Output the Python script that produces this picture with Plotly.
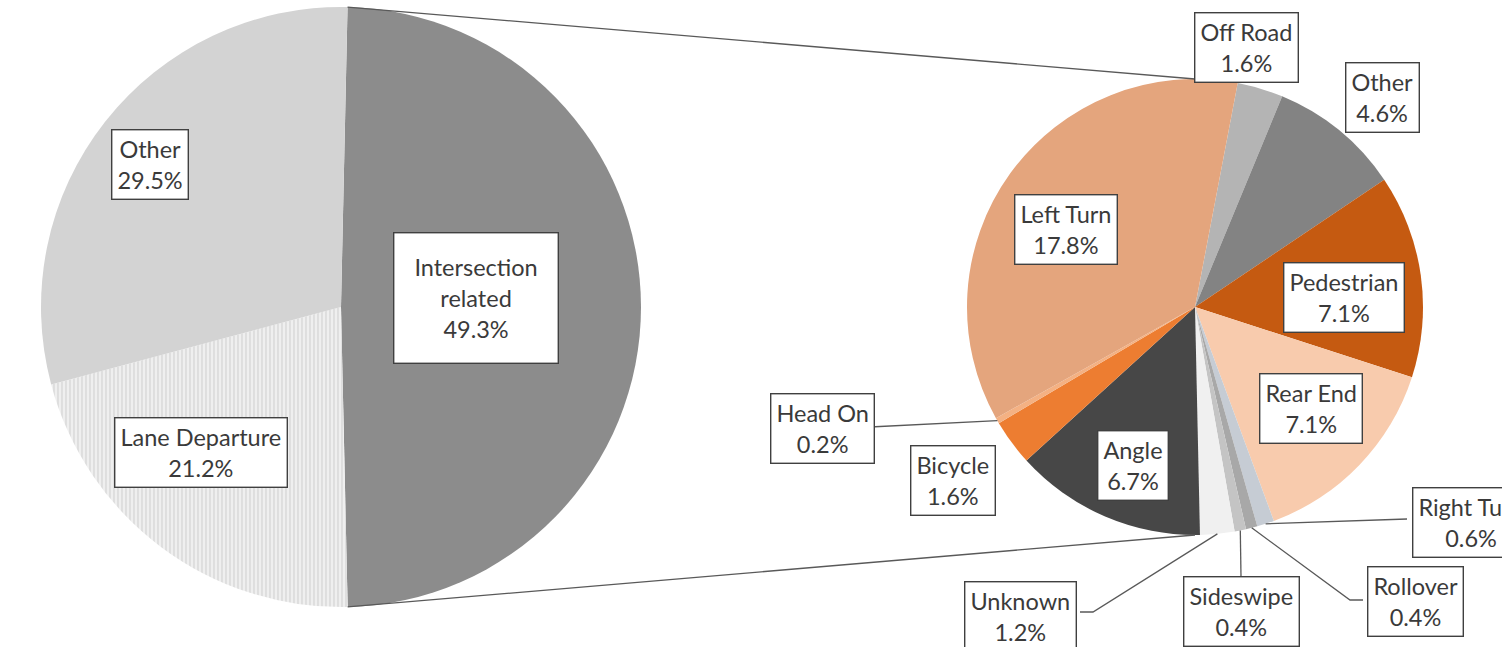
import math
import plotly.graph_objects as go

W, H = 1502, 647

# ---------------- data ----------------
main_labels = ["Intersection related", "Lane Departure", "Other"]
main_values = [49.3, 21.2, 29.5]
main_text = ["Intersection<br>related", "Lane Departure", "Other"]

sub_labels = ["Off Road", "Other", "Pedestrian", "Rear End", "Right Turn", "Rollover",
              "Sideswipe", "Unknown", "Angle", "Bicycle", "Head On", "Left Turn"]
sub_values = [1.6, 4.6, 7.1, 7.1, 0.6, 0.4, 0.4, 1.2, 6.7, 1.6, 0.2, 17.8]

# ---------------- styles / layout ----------------
main_colors = ["#8c8c8c", "#efefef", "#d3d3d3"]
sub_colors = ["#b4b4b4", "#838383", "#c55a11", "#f8cbad", "#c6ccd4", "#a8a8a8",
              "#c4c4c4", "#f0f0f0", "#474747", "#ed7d31", "#f4b183", "#e4a57d"]

L_CX, L_CY, L_R = 341, 307, 300      # left pie centre / radius (px)
R_CX, R_CY, R_R = 1195, 307, 228     # right pie centre / radius (px)
L_ROT = 1.25
R_ROT = 10.8

main_label_pos = [(476, 298), (201, 452), (150, 164)]
main_label_pad = [20, 5, 5]
sub_label_pos = [(1246, 47), (1382, 97), (1344, 297), (1311, 408), (1471, 522), (1415, 601),
                 (1241, 611), (1020, 616), (1133, 465), (953, 480), (822, 428), (1066, 229)]
# leader line routes (label -> intermediate/end points); start is computed on the pie edge
leaders = {
    "Head On": [(870, 427)],
    "Right Turn": [(1407, 519)],
    "Rollover": [(1350, 600), (1363, 600)],
    "Sideswipe": [(1241, 576)],
    "Unknown": [(1093, 612), (1080, 612)],
}

FONT = "Lato, Carlito, Calibri, sans-serif"
TXT_COLOR = "#3a3a3a"
LINE_COLOR = "#595959"


def dom(cx, cy, r):
    return dict(x=[(cx - r) / W, (cx + r) / W], y=[(H - cy - r) / H, (H - cy + r) / H])


def edge_pt(cx, cy, r, ang_deg):
    a = math.radians(ang_deg)
    return (cx + r * math.sin(a), cy - r * math.cos(a))


fig = go.Figure()

fig.add_trace(go.Pie(
    labels=main_labels, values=main_values, sort=False, direction="clockwise",
    rotation=L_ROT, domain=dom(L_CX, L_CY, L_R), textinfo="none", hoverinfo="label+percent",
    marker=dict(colors=main_colors, line=dict(width=0),
                pattern=dict(shape=["", "|", ""], fgcolor=["#8c8c8c", "#d8d8d8", "#d3d3d3"],
                             bgcolor=main_colors, size=4, solidity=0.35)),
    showlegend=False, name="main"))

fig.add_trace(go.Pie(
    labels=sub_labels, values=sub_values, sort=False, direction="clockwise",
    rotation=R_ROT, domain=dom(R_CX, R_CY, R_R), textinfo="none", hoverinfo="label+value",
    marker=dict(colors=sub_colors, line=dict(width=0)),
    showlegend=False, name="sub"))

shapes = []
annotations = []

# connector lines between the pies (from the split-off slice edges to the secondary pie)
tot_main = sum(main_values)
inter_span = main_values[0] / tot_main * 360
top_l = edge_pt(L_CX, L_CY, L_R, L_ROT)
bot_l = edge_pt(L_CX, L_CY, L_R, L_ROT + inter_span)
top_r = edge_pt(R_CX, R_CY, R_R, 0)
bot_r = edge_pt(R_CX, R_CY, R_R, 180)
for p, q in [(top_l, top_r), (bot_l, bot_r)]:
    shapes.append(dict(type="line", xref="x", yref="y", x0=p[0], y0=p[1], x1=q[0], y1=q[1],
                       line=dict(color=LINE_COLOR, width=1.3), layer="above"))

# leader lines for small slices
tot_sub = sum(sub_values)
cum = 0.0
mid_angles = {}
for lab, v in zip(sub_labels, sub_values):
    mid_angles[lab] = R_ROT + (cum + v / 2) / tot_sub * 360
    cum += v
for lab, pts in leaders.items():
    start = edge_pt(R_CX, R_CY, R_R, mid_angles[lab])
    path = "M {:.1f},{:.1f} ".format(*start) + " ".join("L {:.1f},{:.1f}".format(*p) for p in pts)
    shapes.append(dict(type="path", xref="x", yref="y", path=path,
                       line=dict(color=LINE_COLOR, width=1.3), layer="above"))


def add_label(text, pos, pad=5):
    annotations.append(dict(
        x=pos[0], y=pos[1], xref="x", yref="y", text=text, showarrow=False,
        font=dict(family=FONT, size=23.5, color=TXT_COLOR), align="center",
        bgcolor="white", bordercolor="#404040", borderwidth=1.4, borderpad=pad,
        xanchor="center", yanchor="middle"))


for name, v, pos, pad in zip(main_text, main_values, main_label_pos, main_label_pad):
    add_label(f"{name}<br>{v:.1f}%", pos, pad)
for name, v, pos in zip(sub_labels, sub_values, sub_label_pos):
    add_label(f"{name}<br>{v:.1f}%", pos)

fig.update_layout(
    width=W, height=H, margin=dict(l=0, r=0, t=0, b=0),
    paper_bgcolor="white", plot_bgcolor="rgba(0,0,0,0)",
    xaxis=dict(range=[0, W], visible=False, domain=[0, 1], fixedrange=True),
    yaxis=dict(range=[H, 0], visible=False, domain=[0, 1], fixedrange=True),
    shapes=shapes, annotations=annotations, showlegend=False,
)

fig.write_html(
    "out.html",
    config={"displayModeBar": False},
    post_script="document.body.style.margin='0';document.body.style.overflow='hidden';"
                "document.documentElement.style.overflow='hidden';",
)
